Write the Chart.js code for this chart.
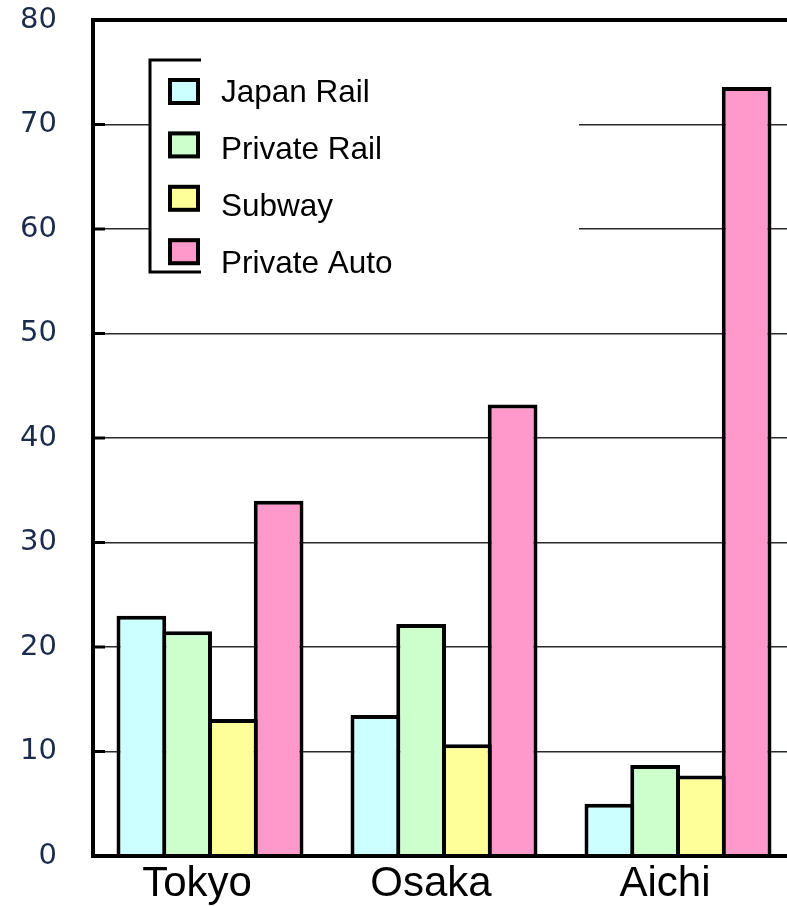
<!DOCTYPE html>
<html lang="en">
<head>
  <meta charset="UTF-8">
  <title>Commuting share by mode</title>
  <script src="https://cdn.jsdelivr.net/npm/chart.js"></script>
  <style>
    html, body {
      margin: 0;
      padding: 0;
      background: #fff;
      overflow: hidden;
    }
    #chart {
      display: block;
    }
  </style>
</head>
<body>
<canvas id="chart" width="800" height="906"></canvas>

<script>
  // data
  const categories = ['Tokyo', 'Osaka', 'Aichi'];
  const seriesNames = ['Japan Rail', 'Private Rail', 'Subway', 'Private Auto'];
  const japanRail = [23, 13.5, 5];
  const privateRail = [21.5, 22.2, 8.7];
  const subway = [13.1, 10.7, 7.7];
  const privateAuto = [34, 43.2, 73.6];
  const yMin = 0, yMax = 80, yStep = 10;

  const colors = ['#ccffff', '#ccffcc', '#ffff99', '#ff99cc'];
  const values = [japanRail, privateRail, subway, privateAuto];

  // small thick stubs at each inner tick, on the inside of the y axis
  const tickStubs = {
    id: 'tickStubs',
    beforeDatasetsDraw(chart) {
      const ctx = chart.ctx;
      const y = chart.scales.y;
      const left = chart.chartArea.left;
      ctx.save();
      ctx.strokeStyle = '#000';
      ctx.lineWidth = 3;
      y.ticks.forEach(t => {
        if (t.value <= yMin || t.value >= yMax) return;
        const py = y.getPixelForValue(t.value);
        ctx.beginPath();
        ctx.moveTo(left, py);
        ctx.lineTo(left + 12, py);
        ctx.stroke();
      });
      ctx.restore();
    }
  };

  // legend inside the plot, white panel with an open bracket frame
  const boxLegend = {
    id: 'boxLegend',
    afterDatasetsDraw(chart) {
      const ctx = chart.ctx;
      const x0 = 150, y0 = 60, y1 = 272;
      ctx.save();
      ctx.fillStyle = '#fff';
      ctx.fillRect(x0 + 1, y0 - 2, 428, y1 - y0 + 4);

      ctx.strokeStyle = '#000';
      ctx.lineWidth = 3;
      ctx.beginPath();
      ctx.moveTo(x0 + 51, y0);
      ctx.lineTo(x0, y0);
      ctx.lineTo(x0, y1);
      ctx.lineTo(x0 + 51, y1);
      ctx.stroke();

      ctx.font = '31.5px "Liberation Sans", Arial, sans-serif';
      ctx.textBaseline = 'alphabetic';
      ctx.textAlign = 'left';
      chart.data.datasets.forEach((ds, i) => {
        const bx = 168, by = 78 + i * 53.4;
        ctx.fillStyle = ds.backgroundColor;
        ctx.fillRect(bx, by, 32, 27);
        ctx.lineWidth = 4;
        ctx.strokeStyle = '#000';
        ctx.strokeRect(bx + 2, by + 2, 28, 23);
        ctx.fillStyle = '#000';
        ctx.fillText(ds.label, 221, 101.7 + i * 57);
      });
      ctx.restore();
    }
  };

  new Chart(document.getElementById('chart'), {
    type: 'bar',
    data: {
      labels: categories,
      datasets: seriesNames.map((name, i) => ({
        label: name,
        data: values[i],
        backgroundColor: colors[i],
        borderColor: '#000',
        borderWidth: 4,
        borderSkipped: 'start',
        categoryPercentage: 0.782,
        barPercentage: 1.087
      }))
    },
    options: {
      responsive: false,
      animation: false,
      devicePixelRatio: 1,
      layout: {
        padding: { top: 20, right: 5, left: 0, bottom: 0 }
      },
      plugins: {
        legend: { display: false },
        tooltip: { enabled: false }
      },
      scales: {
        x: {
          grid: { display: false, drawTicks: false },
          border: { display: true, color: '#000', width: 4, z: 1 },
          ticks: {
            color: '#000',
            font: { family: '"Liberation Sans", Arial, sans-serif', size: 42 },
            padding: 3,
            labelOffset: -13,
            maxRotation: 0,
            autoSkip: false
          },
          afterFit(scale) {
            scale.height = 50;
            scale.paddingLeft = 0;
            scale.paddingRight = 0;
          }
        },
        y: {
          min: yMin,
          max: yMax,
          grid: {
            drawTicks: false,
            color: ctx => ctx.tick && ctx.tick.value === yMax ? '#000' : '#2a2a2a',
            lineWidth: ctx => ctx.tick && ctx.tick.value === yMax ? 4 : 1.5
          },
          border: { display: true, color: '#000', width: 4 },
          ticks: {
            stepSize: yStep,
            color: '#1b2b4b',
            font: { family: '"DejaVu Sans", Verdana, sans-serif', size: 29 },
            padding: 36
          },
          afterFit(scale) {
            scale.width = 93;
            scale.paddingTop = 0;
            scale.paddingBottom = 0;
          }
        }
      }
    },
    plugins: [tickStubs, boxLegend]
  });
</script>
</body>
</html>
